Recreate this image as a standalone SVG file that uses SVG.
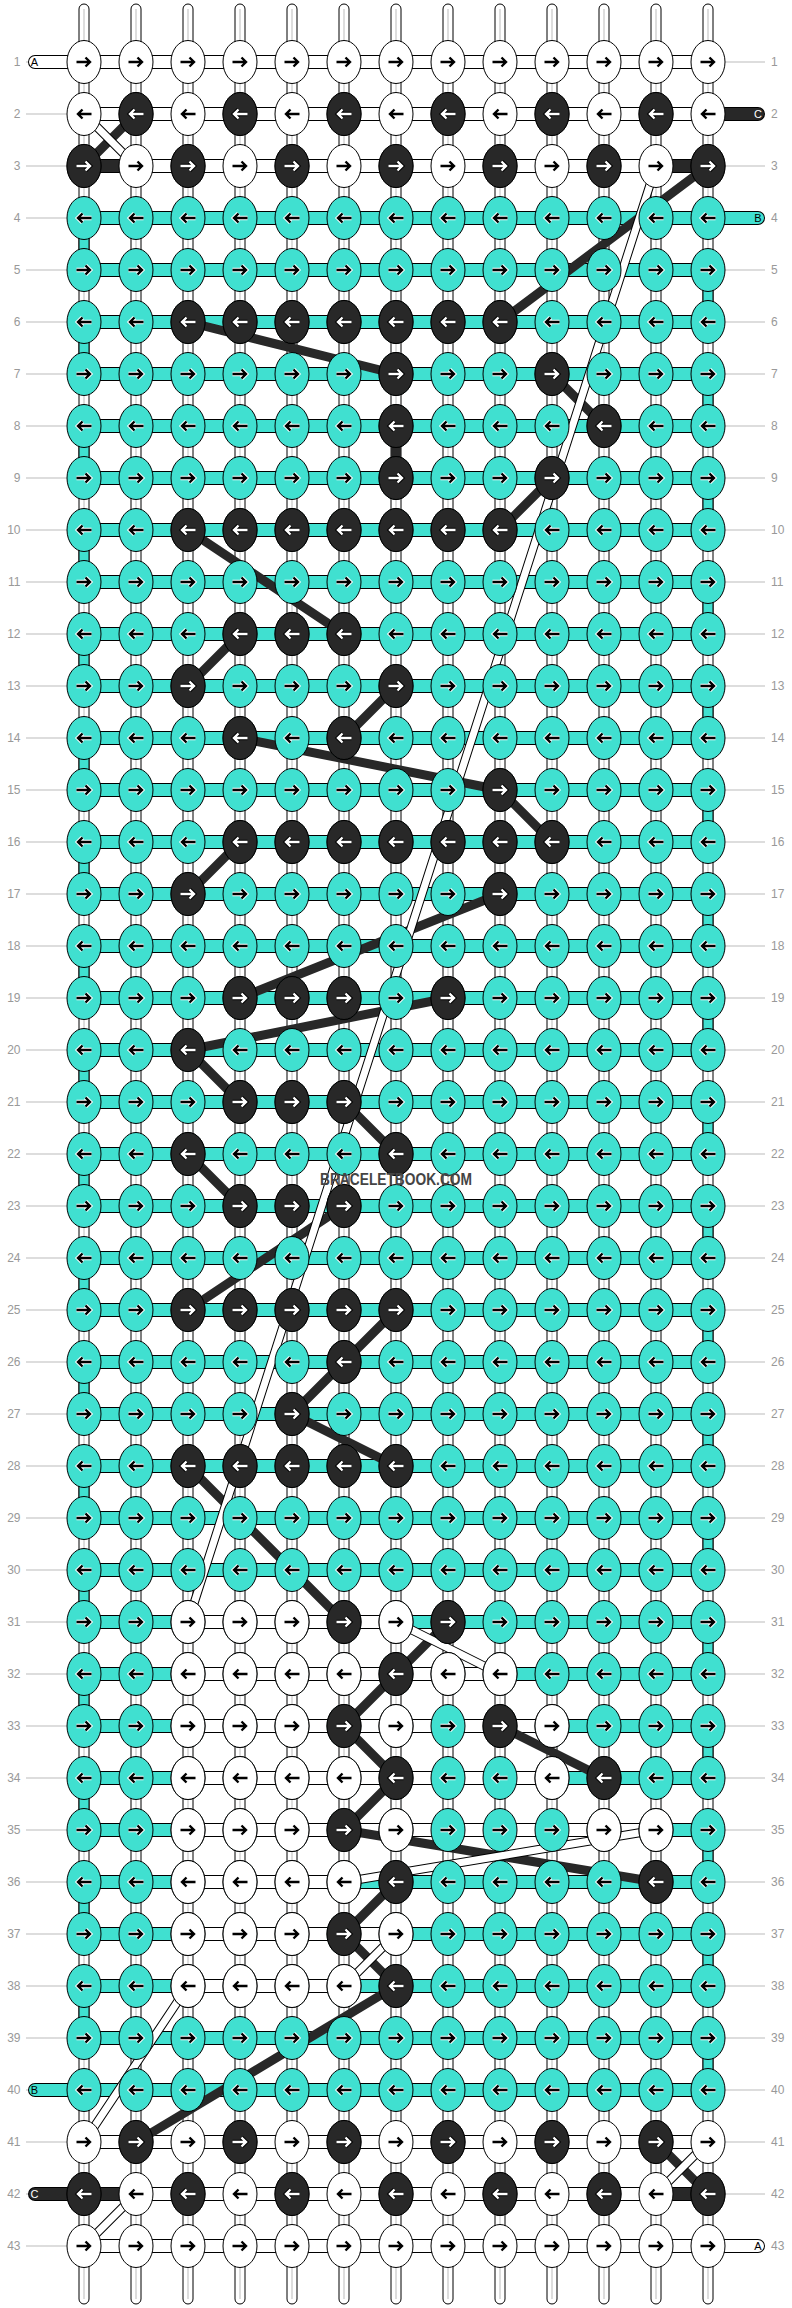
<svg xmlns="http://www.w3.org/2000/svg" xmlns:xlink="http://www.w3.org/1999/xlink" width="792" height="2308" viewBox="0 0 792 2308">
<style>
.w{fill:#fff}.c{fill:#40e0d0}.d{fill:#282828}
ellipse{stroke:#000;stroke-width:1}
.vs{fill:#fff;stroke:#000;stroke-width:1}
.ob{fill:none;stroke:#000;stroke-width:14}
.iw{fill:none;stroke:#fff;stroke-width:12}
.ic{fill:none;stroke:#40e0d0;stroke-width:12}
.id{fill:none;stroke:#282828;stroke-width:12}
.tl{stroke-linecap:round}
.dk{fill:none;stroke:#282828;stroke-width:9;stroke-linecap:round}
.wo{fill:none;stroke:#000;stroke-width:9}
.wi{fill:none;stroke:#fff;stroke-width:7}
.lab{font-family:"Liberation Sans",Arial,sans-serif;font-size:12px;fill:#999}
.tt{font-family:"Liberation Sans",Arial,sans-serif;font-size:11px;text-anchor:middle}
</style>
<defs>
<path id="a" d="M-7.5,0H5.5M1.5,-4.5L6,0L1.5,4.5"/>
<g id="pb"><use href="#a" style="fill:none;stroke:#fff;stroke-width:4.4"/><use href="#a" style="fill:none;stroke:#000;stroke-width:2.4"/></g>
<g id="pw"><use href="#a" style="fill:none;stroke:#000;stroke-width:4.4"/><use href="#a" style="fill:none;stroke:#fff;stroke-width:2.4"/></g>
<g id="wr"><ellipse rx="17" ry="21.5" class="w"/><use href="#pb"/></g>
<g id="wl"><ellipse rx="17" ry="21.5" class="w"/><use href="#pb" transform="scale(-1,1)"/></g>
<g id="cr"><ellipse rx="17" ry="21.5" class="c"/><use href="#pb"/></g>
<g id="cl"><ellipse rx="17" ry="21.5" class="c"/><use href="#pb" transform="scale(-1,1)"/></g>
<g id="dr"><ellipse rx="17" ry="21.5" class="d"/><use href="#pw"/></g>
<g id="dl"><ellipse rx="17" ry="21.5" class="d"/><use href="#pw" transform="scale(-1,1)"/></g>
<g id="WR"><use href="#wr" x="84"/><use href="#wr" x="136"/><use href="#wr" x="188"/><use href="#wr" x="240"/><use href="#wr" x="292"/><use href="#wr" x="344"/><use href="#wr" x="396"/><use href="#wr" x="448"/><use href="#wr" x="500"/><use href="#wr" x="552"/><use href="#wr" x="604"/><use href="#wr" x="656"/><use href="#wr" x="708"/></g>
<g id="WL"><use href="#wl" x="84"/><use href="#wl" x="136"/><use href="#wl" x="188"/><use href="#wl" x="240"/><use href="#wl" x="292"/><use href="#wl" x="344"/><use href="#wl" x="396"/><use href="#wl" x="448"/><use href="#wl" x="500"/><use href="#wl" x="552"/><use href="#wl" x="604"/><use href="#wl" x="656"/><use href="#wl" x="708"/></g>
<g id="CR"><use href="#cr" x="84"/><use href="#cr" x="136"/><use href="#cr" x="188"/><use href="#cr" x="240"/><use href="#cr" x="292"/><use href="#cr" x="344"/><use href="#cr" x="396"/><use href="#cr" x="448"/><use href="#cr" x="500"/><use href="#cr" x="552"/><use href="#cr" x="604"/><use href="#cr" x="656"/><use href="#cr" x="708"/></g>
<g id="CL"><use href="#cl" x="84"/><use href="#cl" x="136"/><use href="#cl" x="188"/><use href="#cl" x="240"/><use href="#cl" x="292"/><use href="#cl" x="344"/><use href="#cl" x="396"/><use href="#cl" x="448"/><use href="#cl" x="500"/><use href="#cl" x="552"/><use href="#cl" x="604"/><use href="#cl" x="656"/><use href="#cl" x="708"/></g>
<pattern id="gp" patternUnits="userSpaceOnUse" x="0" y="36" width="792" height="52"><rect x="0" y="25.5" width="792" height="1" fill="#bbb"/></pattern>
<path id="bw" d="M84,62h624M84,114h624M84,166h624M84,2142h624M84,2194h624M84,2246h624"/>
<path id="bc" d="M84,218h624M84,270h624M84,322h624M84,374h624M84,426h624M84,478h624M84,530h624M84,582h624M84,634h624M84,686h624M84,738h624M84,790h624M84,842h624M84,894h624M84,946h624M84,998h624M84,1050h624M84,1102h624M84,1154h624M84,1206h624M84,1258h624M84,1310h624M84,1362h624M84,1414h624M84,1466h624M84,1518h624M84,1570h624M84,1622h624M84,1674h624M84,1726h624M84,1778h624M84,1830h624M84,1882h624M84,1934h624M84,1986h624M84,2038h624M84,2090h624"/>
<path id="ow" d="M188,1622H396M188,1674H500M188,1726H552M188,1778H552M188,1830H656M188,1882H344M188,1934H396M188,1986H344"/>
<path id="od" d="M84,166H136M656,166H708M84,2194H136M656,2194H708"/>
<path id="tw" d="M35,62H84M708,2246H758"/>
<path id="tc" d="M35,2090H84M708,218H758"/>
<path id="td" d="M35,2194H84M708,114H758"/>
<path id="ec" d="M84,218V2038M708,270V2090"/>
<path id="ws" d="M84,114L136,166M656,166L188,1622M396,1622L500,1674M656,1830L344,1882M396,1934L344,1986M188,1986L84,2142M708,2142L656,2194M136,2194L84,2246"/>
</defs>
<rect width="792" height="2308" fill="#fff"/>
<rect x="26" y="40" width="42" height="2230" fill="url(#gp)"/>
<rect x="724" y="40" width="41" height="2230" fill="url(#gp)"/>
<g id="strings">
<rect class="vs" x="79" y="4" width="10" height="2300" rx="5"/><rect class="vs" x="131" y="4" width="10" height="2300" rx="5"/><rect class="vs" x="183" y="4" width="10" height="2300" rx="5"/><rect class="vs" x="235" y="4" width="10" height="2300" rx="5"/><rect class="vs" x="287" y="4" width="10" height="2300" rx="5"/><rect class="vs" x="339" y="4" width="10" height="2300" rx="5"/><rect class="vs" x="391" y="4" width="10" height="2300" rx="5"/><rect class="vs" x="443" y="4" width="10" height="2300" rx="5"/><rect class="vs" x="495" y="4" width="10" height="2300" rx="5"/><rect class="vs" x="547" y="4" width="10" height="2300" rx="5"/><rect class="vs" x="599" y="4" width="10" height="2300" rx="5"/><rect class="vs" x="651" y="4" width="10" height="2300" rx="5"/><rect class="vs" x="703" y="4" width="10" height="2300" rx="5"/>
<path d="M84,9V2299M136,9V2299M188,9V2299M240,9V2299M292,9V2299M344,9V2299M396,9V2299M448,9V2299M500,9V2299M552,9V2299M604,9V2299M656,9V2299M708,9V2299" stroke="#bbb" stroke-width="1"/>
<use href="#ec" style="fill:none;stroke:#000;stroke-width:11;stroke-dasharray:52 52"/>
<use href="#ec" style="fill:none;stroke:#40e0d0;stroke-width:9;stroke-dasharray:52 52"/>
<path d="M396,426V478" style="stroke:#282828;stroke-width:10"/>
<use href="#bw" class="ob"/><use href="#bw" class="iw"/>
<use href="#bc" class="ob"/><use href="#bc" class="ic"/>
<use href="#ow" class="ob"/><use href="#ow" class="iw"/>
<use href="#od" class="ob"/><use href="#od" class="id"/>
<use href="#tw" class="ob tl"/><use href="#tw" class="iw tl"/>
<use href="#tc" class="ob tl"/><use href="#tc" class="ic tl"/>
<use href="#td" class="ob tl"/><use href="#td" class="id tl"/>
</g>
<g id="connectors">
<path class="dk" d="M136,114L84,166M708,166L500,322M188,322L396,374M552,374L604,426M552,478L500,530M188,530L344,634M240,634L188,686M396,686L344,738M240,738L500,790M500,790L552,842M240,842L188,894M500,894L240,998M448,998L188,1050M188,1050L240,1102M344,1102L396,1154M188,1154L240,1206M344,1206L188,1310M396,1310L344,1362M344,1362L292,1414M292,1414L396,1466M188,1466L344,1622M448,1622L344,1726M344,1726L396,1778M396,1778L344,1830M344,1830L656,1882M500,1726L604,1778M396,1882L344,1934M344,1934L396,1986M396,1986L136,2142M656,2142L708,2194"/>
<use href="#ws" class="wo"/><use href="#ws" class="wi"/>
</g>
<g id="knots">
<g id="row1" transform="translate(0,62)"><use href="#WR"/></g>
<g id="row2" transform="translate(0,114)"><use href="#WL"/><use href="#dl" x="136"/><use href="#dl" x="240"/><use href="#dl" x="344"/><use href="#dl" x="448"/><use href="#dl" x="552"/><use href="#dl" x="656"/></g>
<g id="row3" transform="translate(0,166)"><use href="#WR"/><use href="#dr" x="84"/><use href="#dr" x="188"/><use href="#dr" x="292"/><use href="#dr" x="396"/><use href="#dr" x="500"/><use href="#dr" x="604"/><use href="#dr" x="708"/></g>
<g id="row4" transform="translate(0,218)"><use href="#CL"/></g>
<g id="row5" transform="translate(0,270)"><use href="#CR"/></g>
<g id="row6" transform="translate(0,322)"><use href="#CL"/><use href="#dl" x="188"/><use href="#dl" x="240"/><use href="#dl" x="292"/><use href="#dl" x="344"/><use href="#dl" x="396"/><use href="#dl" x="448"/><use href="#dl" x="500"/></g>
<g id="row7" transform="translate(0,374)"><use href="#CR"/><use href="#dr" x="396"/><use href="#dr" x="552"/></g>
<g id="row8" transform="translate(0,426)"><use href="#CL"/><use href="#dl" x="396"/><use href="#dl" x="604"/></g>
<g id="row9" transform="translate(0,478)"><use href="#CR"/><use href="#dr" x="396"/><use href="#dr" x="552"/></g>
<g id="row10" transform="translate(0,530)"><use href="#CL"/><use href="#dl" x="188"/><use href="#dl" x="240"/><use href="#dl" x="292"/><use href="#dl" x="344"/><use href="#dl" x="396"/><use href="#dl" x="448"/><use href="#dl" x="500"/></g>
<g id="row11" transform="translate(0,582)"><use href="#CR"/></g>
<g id="row12" transform="translate(0,634)"><use href="#CL"/><use href="#dl" x="240"/><use href="#dl" x="292"/><use href="#dl" x="344"/></g>
<g id="row13" transform="translate(0,686)"><use href="#CR"/><use href="#dr" x="188"/><use href="#dr" x="396"/></g>
<g id="row14" transform="translate(0,738)"><use href="#CL"/><use href="#dl" x="240"/><use href="#dl" x="344"/></g>
<g id="row15" transform="translate(0,790)"><use href="#CR"/><use href="#dr" x="500"/></g>
<g id="row16" transform="translate(0,842)"><use href="#CL"/><use href="#dl" x="240"/><use href="#dl" x="292"/><use href="#dl" x="344"/><use href="#dl" x="396"/><use href="#dl" x="448"/><use href="#dl" x="500"/><use href="#dl" x="552"/></g>
<g id="row17" transform="translate(0,894)"><use href="#CR"/><use href="#dr" x="188"/><use href="#dr" x="500"/></g>
<g id="row18" transform="translate(0,946)"><use href="#CL"/></g>
<g id="row19" transform="translate(0,998)"><use href="#CR"/><use href="#dr" x="240"/><use href="#dr" x="292"/><use href="#dr" x="344"/><use href="#dr" x="448"/></g>
<g id="row20" transform="translate(0,1050)"><use href="#CL"/><use href="#dl" x="188"/></g>
<g id="row21" transform="translate(0,1102)"><use href="#CR"/><use href="#dr" x="240"/><use href="#dr" x="292"/><use href="#dr" x="344"/></g>
<g id="row22" transform="translate(0,1154)"><use href="#CL"/><use href="#dl" x="188"/><use href="#dl" x="396"/></g>
<g id="row23" transform="translate(0,1206)"><use href="#CR"/><use href="#dr" x="240"/><use href="#dr" x="292"/><use href="#dr" x="344"/></g>
<g id="row24" transform="translate(0,1258)"><use href="#CL"/></g>
<g id="row25" transform="translate(0,1310)"><use href="#CR"/><use href="#dr" x="188"/><use href="#dr" x="240"/><use href="#dr" x="292"/><use href="#dr" x="344"/><use href="#dr" x="396"/></g>
<g id="row26" transform="translate(0,1362)"><use href="#CL"/><use href="#dl" x="344"/></g>
<g id="row27" transform="translate(0,1414)"><use href="#CR"/><use href="#dr" x="292"/></g>
<g id="row28" transform="translate(0,1466)"><use href="#CL"/><use href="#dl" x="188"/><use href="#dl" x="240"/><use href="#dl" x="292"/><use href="#dl" x="344"/><use href="#dl" x="396"/></g>
<g id="row29" transform="translate(0,1518)"><use href="#CR"/></g>
<g id="row30" transform="translate(0,1570)"><use href="#CL"/></g>
<g id="row31" transform="translate(0,1622)"><use href="#CR"/><use href="#wr" x="188"/><use href="#wr" x="240"/><use href="#wr" x="292"/><use href="#dr" x="344"/><use href="#wr" x="396"/><use href="#dr" x="448"/></g>
<g id="row32" transform="translate(0,1674)"><use href="#CL"/><use href="#wl" x="188"/><use href="#wl" x="240"/><use href="#wl" x="292"/><use href="#wl" x="344"/><use href="#dl" x="396"/><use href="#wl" x="448"/><use href="#wl" x="500"/></g>
<g id="row33" transform="translate(0,1726)"><use href="#CR"/><use href="#wr" x="188"/><use href="#wr" x="240"/><use href="#wr" x="292"/><use href="#dr" x="344"/><use href="#wr" x="396"/><use href="#dr" x="500"/><use href="#wr" x="552"/></g>
<g id="row34" transform="translate(0,1778)"><use href="#CL"/><use href="#wl" x="188"/><use href="#wl" x="240"/><use href="#wl" x="292"/><use href="#wl" x="344"/><use href="#dl" x="396"/><use href="#wl" x="552"/><use href="#dl" x="604"/></g>
<g id="row35" transform="translate(0,1830)"><use href="#CR"/><use href="#wr" x="188"/><use href="#wr" x="240"/><use href="#wr" x="292"/><use href="#dr" x="344"/><use href="#wr" x="396"/><use href="#wr" x="604"/><use href="#wr" x="656"/></g>
<g id="row36" transform="translate(0,1882)"><use href="#CL"/><use href="#wl" x="188"/><use href="#wl" x="240"/><use href="#wl" x="292"/><use href="#wl" x="344"/><use href="#dl" x="396"/><use href="#dl" x="656"/></g>
<g id="row37" transform="translate(0,1934)"><use href="#CR"/><use href="#wr" x="188"/><use href="#wr" x="240"/><use href="#wr" x="292"/><use href="#dr" x="344"/><use href="#wr" x="396"/></g>
<g id="row38" transform="translate(0,1986)"><use href="#CL"/><use href="#wl" x="188"/><use href="#wl" x="240"/><use href="#wl" x="292"/><use href="#wl" x="344"/><use href="#dl" x="396"/></g>
<g id="row39" transform="translate(0,2038)"><use href="#CR"/></g>
<g id="row40" transform="translate(0,2090)"><use href="#CL"/></g>
<g id="row41" transform="translate(0,2142)"><use href="#WR"/><use href="#dr" x="136"/><use href="#dr" x="240"/><use href="#dr" x="344"/><use href="#dr" x="448"/><use href="#dr" x="552"/><use href="#dr" x="656"/></g>
<g id="row42" transform="translate(0,2194)"><use href="#WL"/><use href="#dl" x="84"/><use href="#dl" x="188"/><use href="#dl" x="292"/><use href="#dl" x="396"/><use href="#dl" x="500"/><use href="#dl" x="604"/><use href="#dl" x="708"/></g>
<g id="row43" transform="translate(0,2246)"><use href="#WR"/></g>
</g>
<g id="tails">
<text class="tt" x="34.5" y="66">A</text>
<text class="tt" x="34.5" y="2094">B</text>
<text class="tt" x="34.5" y="2198" fill="#fff">C</text>
<text class="tt" x="758" y="118" fill="#fff">C</text>
<text class="tt" x="758" y="222">B</text>
<text class="tt" x="758" y="2250">A</text>
</g>
<text x="396" y="1185" font-family="Liberation Sans,Arial,sans-serif" font-weight="bold" font-size="16" fill="#444" text-anchor="middle" textLength="152" lengthAdjust="spacingAndGlyphs">BRACELETBOOK.COM</text>
<g id="labels-left" class="lab" text-anchor="end">
<text x="20.5" y="66.2">1</text><text x="20.5" y="118.2">2</text><text x="20.5" y="170.2">3</text><text x="20.5" y="222.2">4</text><text x="20.5" y="274.2">5</text><text x="20.5" y="326.2">6</text><text x="20.5" y="378.2">7</text><text x="20.5" y="430.2">8</text><text x="20.5" y="482.2">9</text><text x="20.5" y="534.2">10</text><text x="20.5" y="586.2">11</text><text x="20.5" y="638.2">12</text><text x="20.5" y="690.2">13</text><text x="20.5" y="742.2">14</text><text x="20.5" y="794.2">15</text><text x="20.5" y="846.2">16</text><text x="20.5" y="898.2">17</text><text x="20.5" y="950.2">18</text><text x="20.5" y="1002.2">19</text><text x="20.5" y="1054.2">20</text><text x="20.5" y="1106.2">21</text><text x="20.5" y="1158.2">22</text><text x="20.5" y="1210.2">23</text><text x="20.5" y="1262.2">24</text><text x="20.5" y="1314.2">25</text><text x="20.5" y="1366.2">26</text><text x="20.5" y="1418.2">27</text><text x="20.5" y="1470.2">28</text><text x="20.5" y="1522.2">29</text><text x="20.5" y="1574.2">30</text><text x="20.5" y="1626.2">31</text><text x="20.5" y="1678.2">32</text><text x="20.5" y="1730.2">33</text><text x="20.5" y="1782.2">34</text><text x="20.5" y="1834.2">35</text><text x="20.5" y="1886.2">36</text><text x="20.5" y="1938.2">37</text><text x="20.5" y="1990.2">38</text><text x="20.5" y="2042.2">39</text><text x="20.5" y="2094.2">40</text><text x="20.5" y="2146.2">41</text><text x="20.5" y="2198.2">42</text><text x="20.5" y="2250.2">43</text>
</g>
<g id="labels-right" class="lab">
<text x="771" y="66.2">1</text><text x="771" y="118.2">2</text><text x="771" y="170.2">3</text><text x="771" y="222.2">4</text><text x="771" y="274.2">5</text><text x="771" y="326.2">6</text><text x="771" y="378.2">7</text><text x="771" y="430.2">8</text><text x="771" y="482.2">9</text><text x="771" y="534.2">10</text><text x="771" y="586.2">11</text><text x="771" y="638.2">12</text><text x="771" y="690.2">13</text><text x="771" y="742.2">14</text><text x="771" y="794.2">15</text><text x="771" y="846.2">16</text><text x="771" y="898.2">17</text><text x="771" y="950.2">18</text><text x="771" y="1002.2">19</text><text x="771" y="1054.2">20</text><text x="771" y="1106.2">21</text><text x="771" y="1158.2">22</text><text x="771" y="1210.2">23</text><text x="771" y="1262.2">24</text><text x="771" y="1314.2">25</text><text x="771" y="1366.2">26</text><text x="771" y="1418.2">27</text><text x="771" y="1470.2">28</text><text x="771" y="1522.2">29</text><text x="771" y="1574.2">30</text><text x="771" y="1626.2">31</text><text x="771" y="1678.2">32</text><text x="771" y="1730.2">33</text><text x="771" y="1782.2">34</text><text x="771" y="1834.2">35</text><text x="771" y="1886.2">36</text><text x="771" y="1938.2">37</text><text x="771" y="1990.2">38</text><text x="771" y="2042.2">39</text><text x="771" y="2094.2">40</text><text x="771" y="2146.2">41</text><text x="771" y="2198.2">42</text><text x="771" y="2250.2">43</text>
</g>
</svg>
